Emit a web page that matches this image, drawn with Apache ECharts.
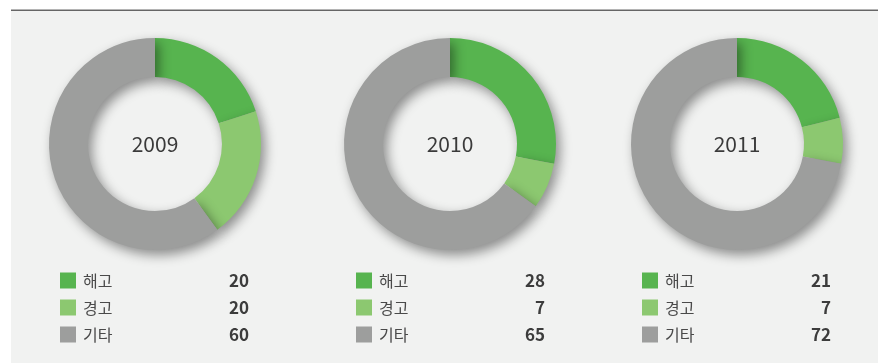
<!DOCTYPE html>
<html>
<head>
<meta charset="utf-8">
<script src="https://cdn.jsdelivr.net/npm/echarts@6/dist/echarts.min.js"></script>
<style>
  html, body { margin: 0; padding: 0; background: #ffffff; }
  #chart { width: 878px; height: 364px; }
</style>
</head>
<body>
<div id="chart"></div>
<script>
// Disciplinary outcomes per year (share, %)
const years = ['2009', '2010', '2011'];
const categories = ['해고', '경고', '기타'];
const values2009 = [20, 20, 60];
const values2010 = [28, 7, 65];
const values2011 = [21, 7, 72];
const yearValues = [values2009, values2010, values2011];

const colors = ['#57b44f', '#8cc870', '#9d9e9d'];
const FONT = '"Noto Sans CJK KR", "Noto Sans", sans-serif';

// per-panel layout: donut centre and legend anchor
const centersX = [155, 450, 737];
const centerY = 144;
const legendLeft = [60, 356, 642];

const chart = echarts.init(document.getElementById('chart'), null, { renderer: 'canvas' });

const series = years.map((y, i) => ({
  type: 'pie',
  center: [centersX[i], centerY],
  radius: [67, 106],
  startAngle: 90,
  clockwise: true,
  silent: true,
  label: { show: false },
  labelLine: { show: false },
  itemStyle: {
    borderWidth: 0,
    shadowBlur: 12,
    shadowOffsetX: 4,
    shadowOffsetY: 5,
    shadowColor: 'rgba(0,0,0,0.42)'
  },
  data: categories.map((c, k) => ({
    name: c,
    value: yearValues[i][k],
    itemStyle: { color: colors[k] }
  }))
}));

const legends = years.map((y, i) => ({
  orient: 'vertical',
  left: legendLeft[i],
  top: 272,
  padding: 0,
  itemWidth: 16,
  itemHeight: 16,
  itemGap: 10,
  selectedMode: false,
  icon: 'rect',
  data: categories,
  formatter: name => {
    const v = yearValues[i][categories.indexOf(name)];
    return '{n|' + name + '}{v|' + v + '}';
  },
  textStyle: {
    fontFamily: FONT,
    rich: {
      n: { fontFamily: FONT, fontSize: 16, color: '#4a4a4a', width: 120, lineHeight: 16, padding: [0, 0, 0, 2] },
      v: { fontFamily: FONT, fontSize: 17, fontWeight: 'bold', color: '#3c3c3c', width: 46, align: 'right', lineHeight: 16 }
    }
  }
}));

const graphics = [
  // panel background and top rule
  { type: 'rect', shape: { x: 11, y: 9, width: 867, height: 354 }, style: { fill: '#f1f2f1' }, z: -10 },
  { type: 'rect', shape: { x: 11, y: 9, width: 867, height: 1 }, style: { fill: '#b4b4b4' }, z: -9 },
  { type: 'rect', shape: { x: 11, y: 10, width: 867, height: 1 }, style: { fill: '#666666' }, z: -9 }
].concat(years.map((y, i) => ({
  type: 'text',
  x: centersX[i],
  y: centerY,
  z: 10,
  style: {
    text: y,
    fontFamily: FONT,
    fontSize: 21,
    fill: '#3a3a3a',
    align: 'center',
    verticalAlign: 'middle'
  }
})));

chart.setOption({
  animation: false,
  backgroundColor: '#ffffff',
  legend: legends,
  graphic: graphics,
  series: series
});
</script>
</body>
</html>
